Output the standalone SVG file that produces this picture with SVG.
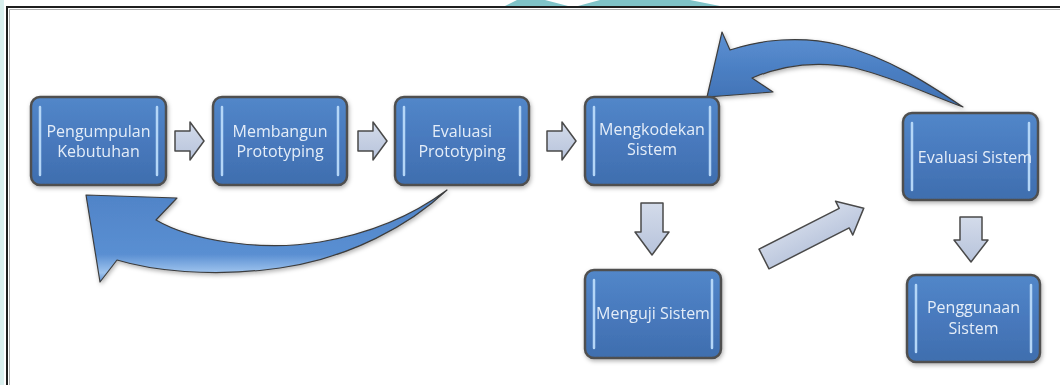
<svg xmlns="http://www.w3.org/2000/svg" width="1060" height="385" viewBox="0 0 1060 385">
<defs>
<linearGradient id="boxG" x1="0" y1="0" x2="0" y2="1">
<stop offset="0" stop-color="#5287c9"/>
<stop offset="0.5" stop-color="#4879bd"/>
<stop offset="1" stop-color="#3f6eae"/>
</linearGradient>
<linearGradient id="smallG" x1="0" y1="0" x2="0" y2="1">
<stop offset="0" stop-color="#d3dbea"/>
<stop offset="1" stop-color="#b7c3db"/>
</linearGradient>
<linearGradient id="curveG1" x1="0" y1="0" x2="0" y2="1">
<stop offset="0" stop-color="#4f83c7"/>
<stop offset="0.7" stop-color="#5a8fd2"/>
<stop offset="0.9" stop-color="#9fc4ee"/>
<stop offset="1" stop-color="#5a8ccc"/>
</linearGradient>
<linearGradient id="curveG2" x1="0" y1="0" x2="0" y2="1">
<stop offset="0" stop-color="#5d91d3"/>
<stop offset="0.5" stop-color="#4b7fc3"/>
<stop offset="1" stop-color="#3f70b2"/>
</linearGradient>
<filter id="sh" x="-10%" y="-10%" width="125%" height="130%">
<feDropShadow dx="1" dy="2" stdDeviation="2" flood-color="#000" flood-opacity="0.3"/>
</filter>
</defs>
<style>
.box{fill:url(#boxG);stroke:#4f4f4f;stroke-width:2.5}
.hl{stroke:#b4d6f7;stroke-width:2.5;fill:none;stroke-linecap:round}
.lbl{font-family:"Open Sans","Liberation Sans",sans-serif;font-size:16px;fill:#e4edf8;text-anchor:middle}
.sa{fill:url(#smallG);stroke:#4a4a4a;stroke-width:1.5;stroke-linejoin:round}
.ca{stroke:#3d3d3d;stroke-width:1.2;stroke-linejoin:round}
</style>
<rect x="0" y="0" width="1060" height="385" fill="#ffffff"/>
<rect x="0" y="0" width="4" height="385" fill="#d9efee"/>
<polygon points="505,6 517,0 545,0 568,6" fill="#7fc3c8"/>
<polygon points="578,6 600,0 690,0 720,6" fill="#7fc3c8"/>
<path d="M7,385 V7 H1060" fill="none" stroke="#1e1e1e" stroke-width="2"/>
<path d="M9.5,385 V9.5 H1060" fill="none" stroke="#9a9a9a" stroke-width="0.8"/>

<g id="connectors">
<path class="sa" d="M175,131 H190 V122 L204,141 L190,160 V151 H175 Z"/>
<path class="sa" d="M358,131 H373 V122 L387,141 L373,160 V151 H358 Z"/>
<path class="sa" d="M547,131 H562 V122 L576,141 L562,160 V151 H547 Z"/>
<path class="sa" d="M641,203 H663 V232 H669 L652,255 L635,232 H641 Z"/>
<path class="sa" d="M960,217 H982 V240 H988 L971,262 L954,240 H960 Z"/>
<path class="sa" transform="translate(764,259) rotate(-27)" d="M0,-11 H90 V-19 L112,0 L90,19 V11 H0 Z"/>
<path class="ca" fill="url(#curveG1)" filter="url(#sh)" d="M86,195 L177,198 L156,220 C190,240 260,252 320,242 C380,232 420,210 447,190 C410,225 350,258 280,268 C210,278 150,270 117,260 L100,282 Z"/>
<path class="ca" fill="url(#curveG2)" filter="url(#sh)" d="M707,97 L722,32 L730,50 C760,40 800,35 840,45 C890,58 930,85 963,107 C930,95 895,78 855,68 C820,61 785,64 752,78 L773,92 Z"/>
</g>

<g id="node1" filter="url(#sh)">
<rect class="box" x="31" y="97" width="135" height="88" rx="9"/>
<path class="hl" d="M40,107 V175 M157,107 V175"/>
<text class="lbl" x="98.5" y="137">Pengumpulan</text>
<text class="lbl" x="98.5" y="157">Kebutuhan</text>
</g>
<g id="node2" filter="url(#sh)">
<rect class="box" x="213" y="97" width="134" height="88" rx="9"/>
<path class="hl" d="M222,107 V175 M338,107 V175"/>
<text class="lbl" x="280" y="137">Membangun</text>
<text class="lbl" x="280" y="157">Prototyping</text>
</g>
<g id="node3" filter="url(#sh)">
<rect class="box" x="395" y="97" width="134" height="88" rx="9"/>
<path class="hl" d="M404,107 V175 M520,107 V175"/>
<text class="lbl" x="462" y="137">Evaluasi</text>
<text class="lbl" x="462" y="157">Prototyping</text>
</g>
<g id="node4" filter="url(#sh)">
<rect class="box" x="585" y="97" width="134" height="88" rx="9"/>
<path class="hl" d="M594,107 V175 M710,107 V175"/>
<text class="lbl" x="652" y="135">Mengkodekan</text>
<text class="lbl" x="652" y="155">Sistem</text>
</g>
<g id="node5" filter="url(#sh)">
<rect class="box" x="903" y="113" width="135" height="87" rx="9"/>
<path class="hl" d="M912,123 V190 M1029,123 V190"/>
<text class="lbl" x="975" y="163">Evaluasi Sistem</text>
</g>
<g id="node6" filter="url(#sh)">
<rect class="box" x="585" y="270" width="136" height="88" rx="9"/>
<path class="hl" d="M594,280 V348 M712,280 V348"/>
<text class="lbl" x="653" y="319">Menguji Sistem</text>
</g>
<g id="node7" filter="url(#sh)">
<rect class="box" x="907" y="275" width="133" height="87" rx="9"/>
<path class="hl" d="M916,285 V352 M1031,285 V352"/>
<text class="lbl" x="973.5" y="313">Penggunaan</text>
<text class="lbl" x="973.5" y="334">Sistem</text>
</g>
</svg>
